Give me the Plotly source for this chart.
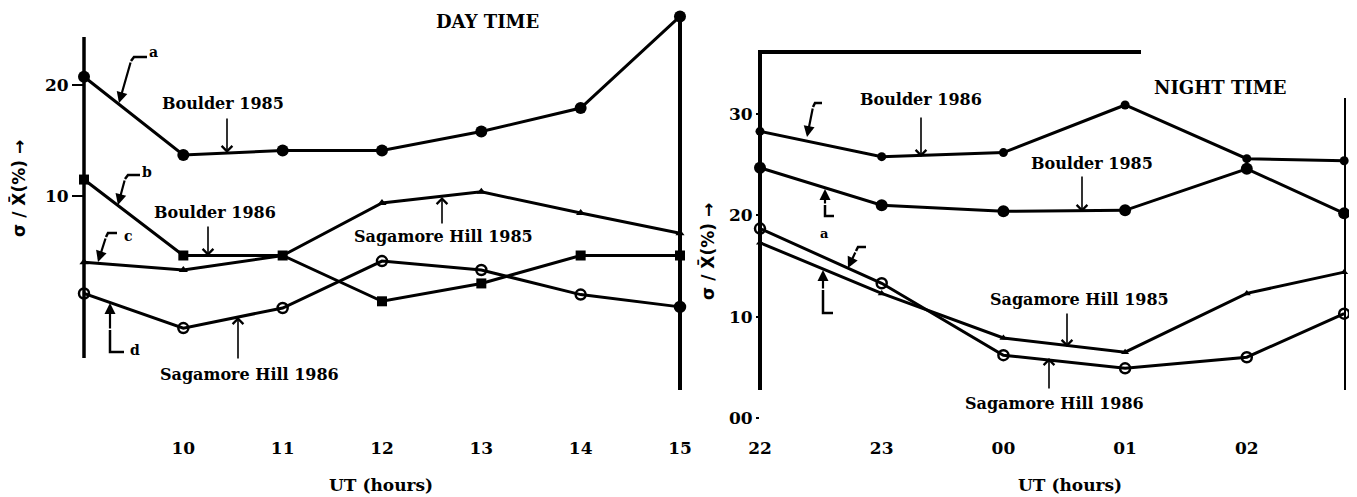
import plotly.graph_objects as go

# ---------------- data ----------------
day_hours = [9, 10, 11, 12, 13, 14, 15]
day_tick_vals = [10, 11, 12, 13, 14, 15]
day_tick_text = ["10", "11", "12", "13", "14", "15"]
day_boulder_1985 = [20.7, 13.7, 14.1, 14.1, 15.8, 17.9, 26.1]
day_boulder_1986 = [11.5, 4.7, 4.7, 0.6, 2.2, 4.7, 4.7]
day_sagamore_1985 = [4.1, 3.4, 4.7, 9.4, 10.4, 8.5, 6.7]
day_sagamore_1986 = [1.3, -1.8, 0.0, 4.2, 3.4, 1.2, 0.1]

night_hours = [22, 23, 24, 25, 26, 26.8]
night_tick_vals = [22, 23, 24, 25, 26]
night_tick_text = ["22", "23", "00", "01", "02"]
night_boulder_1986 = [28.3, 25.8, 26.2, 30.9, 25.6, 25.4]
night_boulder_1985 = [24.7, 21.0, 20.4, 20.5, 24.6, 20.2]
night_sagamore_1985 = [17.3, 12.3, 7.9, 6.5, 12.3, 14.4]
night_sagamore_1986 = [18.7, 13.3, 6.2, 4.9, 6.0, 10.3]

day_y_ticks = [10, 20]
night_y_ticks = [0, 10, 20, 30]
night_y_text = ["00", "10", "20", "30"]

# ---------------- page geometry ----------------
PAGE_W, PAGE_H = 1357, 497
OFF = 8                       # default body margin of the page
W = PAGE_W - 2 * OFF          # figure width that fits the window
H = PAGE_H - OFF              # figure height

def px(x):                    # page pixel column -> paper x
    return (x - OFF) / W

def py(y):                    # page pixel row -> paper y
    return 1 - (y - OFF) / H

FONT = "DejaVu Serif"
SANS = "DejaVu Sans"
INK = "black"

fig = go.Figure()

def add_series(xs, ys, xa, ya, symbol, size, name):
    first = symbol if isinstance(symbol, str) else symbol[0]
    open_ = "open" in first
    fig.add_trace(go.Scatter(
        x=xs, y=ys, xaxis=xa, yaxis=ya, mode="lines+markers", name=name,
        line=dict(color=INK, width=3),
        marker=dict(symbol=symbol, size=size, color=INK,
                    line=dict(color=INK, width=2.5 if open_ else 0)),
        cliponaxis=False, showlegend=False,
    ))

# day time
add_series(day_hours, day_boulder_1985, "x", "y", "circle", 12, "Boulder 1985")
add_series(day_hours, day_boulder_1986, "x", "y", "square", 10, "Boulder 1986")
add_series(day_hours, day_sagamore_1985, "x", "y", "triangle-up", 8, "Sagamore Hill 1985")
add_series(day_hours, day_sagamore_1986, "x", "y",
           ["circle-open"] * 6 + ["circle"], 10, "Sagamore Hill 1986")
# night time
add_series(night_hours, night_boulder_1986, "x2", "y2", "circle", 9, "Boulder 1986")
add_series(night_hours, night_boulder_1985, "x2", "y2", "circle", 12, "Boulder 1985")
add_series(night_hours, night_sagamore_1985, "x2", "y2", "triangle-up", 7, "Sagamore Hill 1985")
add_series(night_hours, night_sagamore_1986, "x2", "y2", "circle-open", 10, "Sagamore Hill 1986")

# ---------------- axes geometry (page pixels) ----------------
TOP, BOTTOM = OFF, 436
ydom = [py(BOTTOM), 1]

# day panel: hour 9 at col 84, 99.33 px/hour; value 0 at row 308, 11.17 px/unit
d_x0, d_x1, d_dx = 84, 700, 99.33
d_y0, d_dy = 308, 11.17
# night panel: hour 22 at col 760, 121.7 px/hour; value 0 at row 418, 10.13 px/unit
n_x0, n_x1, n_dx = 760, OFF + W, 121.7
n_y0, n_dy = 418, 10.13

tickfont = dict(family=FONT, size=17, color=INK, weight="bold")

fig.update_layout(
    width=W, height=H,
    margin=dict(l=0, r=0, t=0, b=0, autoexpand=False),
    paper_bgcolor="white", plot_bgcolor="white",
    font=dict(family=FONT, color=INK),
    xaxis=dict(domain=[px(d_x0), px(d_x1)],
               range=[9, 9 + (d_x1 - d_x0) / d_dx],
               tickvals=day_tick_vals, ticktext=day_tick_text,
               showgrid=False, zeroline=False, showline=False, ticks="",
               tickfont=tickfont, anchor="y"),
    yaxis=dict(domain=ydom,
               range=[(d_y0 - BOTTOM) / d_dy, (d_y0 - TOP) / d_dy],
               tickvals=day_y_ticks, ticks="outside", ticklen=11, tickwidth=2,
               tickcolor=INK, showgrid=False, zeroline=False, showline=False,
               tickfont=tickfont, anchor="x"),
    xaxis2=dict(domain=[px(n_x0), px(n_x1)],
                range=[22, 22 + (n_x1 - n_x0) / n_dx],
                tickvals=night_tick_vals, ticktext=night_tick_text,
                showgrid=False, zeroline=False, showline=False, ticks="",
                tickfont=tickfont, anchor="y2"),
    yaxis2=dict(domain=ydom,
                range=[(n_y0 - BOTTOM) / n_dy, (n_y0 - TOP) / n_dy],
                tickvals=night_y_ticks, ticktext=night_y_text,
                ticks="outside", ticklen=3, tickwidth=2, tickcolor=INK,
                showgrid=False, zeroline=False, showline=False,
                tickfont=tickfont, anchor="x2"),
)

# ---------------- frame lines ----------------
def seg(x0, y0, x1, y1, w):
    fig.add_shape(type="line", xref="paper", yref="paper",
                  x0=px(x0), y0=py(y0), x1=px(x1), y1=py(y1),
                  line=dict(color=INK, width=w))

seg(84, 37, 84, 358, 3.5)        # day left axis
seg(680, 14, 680, 390, 4)        # day right line
seg(760, 52, 760, 390, 4)        # night left axis
seg(758, 52, 1141, 52, 4)        # night top line
seg(1345, 98, 1345, 390, 2)      # night right line

# ---------------- text ----------------
annotations = []

def label(text, x, y, size=16, bold=True, angle=0, family=FONT):
    annotations.append(dict(
        text=text, x=px(x), y=py(y), xref="paper", yref="paper",
        showarrow=False, xanchor="center", yanchor="middle", textangle=angle,
        font=dict(family=family, size=size, color=INK,
                  weight="bold" if bold else "normal")))

def arrow(x_head, y_head, x_tail, y_tail, head=4, size=1.3, width=1.6):
    annotations.append(dict(
        text="", x=px(x_head), y=py(y_head), xref="paper", yref="paper",
        ax=x_tail - x_head, ay=y_tail - y_head, axref="pixel", ayref="pixel",
        showarrow=True, arrowhead=head, arrowsize=size, arrowwidth=width,
        arrowcolor=INK, standoff=0, startstandoff=0))

# titles
label("DAY TIME", 487, 22, size=18)
label("NIGHT TIME", 1220, 87, size=18)
label("UT (hours)", 381, 485, size=17)
label("UT (hours)", 1070, 485, size=17)
label("σ / X̄(%) →", 19, 189, size=17, angle=-90, family=SANS)
label("σ / X̄(%) →", 707, 252, size=17, angle=-90, family=SANS)

# day series labels + pointer arrows
label("Boulder 1985", 223, 104)
arrow(227, 153, 227, 117)
label("Boulder 1986", 215, 212)
arrow(208, 256, 208, 225)
label("Sagamore Hill 1985", 443, 236)
arrow(442, 197, 442, 225)
label("Sagamore Hill 1986", 250, 374)
arrow(238, 317, 238, 360)

# night series labels + pointer arrows
label("Boulder 1986", 921, 100)
arrow(921, 157, 921, 116)
label("Boulder 1985", 1092, 163)
arrow(1082, 212, 1082, 175)
label("Sagamore Hill 1985", 1079, 299)
arrow(1067, 347, 1067, 312)
label("Sagamore Hill 1986", 1054, 403)
arrow(1049, 358, 1049, 390)

# curve letters with bracket pointers
def path(d, w=2.5):
    fig.add_shape(type="path", xref="paper", yref="paper",
                  path=d, line=dict(color=INK, width=w))

def pth(points):
    s = "M{:.5f},{:.5f}".format(px(points[0][0]), py(points[0][1]))
    for (x, y) in points[1:]:
        s += " L{:.5f},{:.5f}".format(px(x), py(y))
    return s

# day: a, b, c (hook shapes), d (corner)
path(pth([(147, 57), (134, 57), (131, 61)]))
arrow(119, 103, 131, 61, head=2, size=1.0, width=2.2)
label("a", 153, 52, size=14)
path(pth([(140, 175), (128, 175), (125, 179)]))
arrow(118, 205, 125, 179, head=2, size=1.0, width=2.2)
label("b", 147, 172, size=14)
path(pth([(117, 233), (108, 233), (106, 237)]))
arrow(98, 262, 106, 237, head=2, size=1.0, width=2.2)
label("c", 128, 236, size=14)
path(pth([(124, 352), (110, 352), (110, 330)]))
arrow(110, 303, 110, 330, head=2, size=1.0, width=2.2)
label("d", 135, 350, size=14)

# night brackets
path(pth([(822, 103), (815, 103), (813, 107)]))
arrow(807, 137, 813, 107, head=2, size=1.0, width=2.2)
path(pth([(834, 216), (825, 216), (825, 205)]))
arrow(825, 189, 825, 205, head=2, size=1.0, width=2.2)
label("a", 825, 233, size=13)
path(pth([(866, 247), (858, 247), (856, 251)]))
arrow(848, 268, 856, 251, head=2, size=1.0, width=2.2)
path(pth([(833, 313), (823, 313), (823, 290)]))
arrow(823, 270, 823, 290, head=2, size=1.0, width=2.2)

fig.update_layout(annotations=annotations)

fig.write_html("out.html")
